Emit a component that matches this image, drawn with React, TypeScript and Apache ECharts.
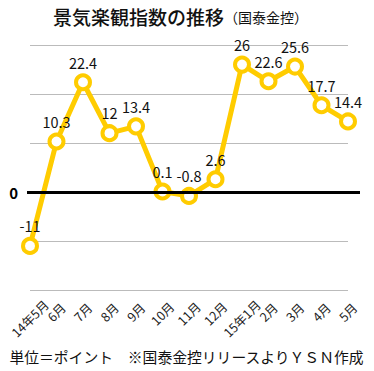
import React, { useEffect, useRef } from "react";
import * as echarts from "echarts";

const categories = ["14年5月", "6月", "7月", "8月", "9月", "10月", "11月", "12月", "15年1月", "2月", "3月", "4月", "5月"];
const values = [-11, 10.3, 22.4, 12, 13.4, 0.1, -0.8, 2.6, 26, 22.6, 25.6, 17.7, 14.4];
const titleMain = "景気楽観指数の推移";
const titleSub = "（国泰金控）";
const footer = "単位＝ポイント　※国泰金控リリースよりＹＳＮ作成";

const FONT = '"Noto Sans CJK JP", "Noto Sans", sans-serif';
const LABEL_SIZE = 12.5;

function measure(text: string, size: number): number {
  const c = document.createElement("canvas").getContext("2d");
  if (!c) return text.length * size;
  c.font = `${size}px ${FONT}`;
  return c.measureText(text).width;
}

export default function App() {
  const ref = useRef<HTMLDivElement>(null);
  useEffect(() => {
    if (!ref.current) return;
    const chart = echarts.init(ref.current, null, { renderer: "svg" });
    // per-label padding so rotated labels are centred under their tick (Excel style)
    const rich: Record<string, any> = {};
    categories.forEach((c, i) => {
      const L = measure(c, LABEL_SIZE);
      const p = Math.round(L * 0.32);
      rich["r" + i] = { padding: [p, p, 0, 0], fontSize: LABEL_SIZE, color: "#222", fontFamily: FONT };
    });
    chart.setOption({
      animation: false,
      backgroundColor: "#ffffff",
      textStyle: { fontFamily: FONT },
      title: {
        text: `{a|${titleMain}}{b|${titleSub}}`,
        left: 48,
        top: 2,
        textStyle: {
          rich: {
            a: { fontSize: 19, fontWeight: 500, color: "#111", fontFamily: FONT },
            b: { fontSize: 14, color: "#111", fontFamily: FONT, fontWeight: "normal" },
          },
        },
      },
      graphic: [
        {
          type: "text",
          left: "center",
          top: 349,
          style: { text: footer, fontSize: 14.8, fill: "#111", fontFamily: FONT },
        },
      ],
      grid: { left: 30, right: 26, top: 45, bottom: 81, outerBoundsMode: "none", containLabel: false },
      xAxis: {
        type: "category",
        data: categories,
        boundaryGap: false,
        axisLine: { lineStyle: { color: "#555", width: 1 } },
        axisTick: { show: false },
        axisLabel: {
          rotate: 45,
          align: "center",
          verticalAlign: "middle",
          interval: 0,
          margin: 18,
          formatter: (v: string, i: number) => `{r${i}|${v}}`,
          rich,
        },
      },
      yAxis: {
        type: "value",
        min: -20,
        max: 30,
        interval: 10,
        axisLine: { show: false },
        axisTick: { show: false },
        splitLine: { lineStyle: { color: "#bbbbbb", width: 1 } },
        axisLabel: {
          formatter: (v: number) => (v === 0 ? "0" : ""),
          fontSize: 15,
          fontWeight: "bold",
          color: "#000",
          margin: 12,
        },
      },
      series: [
        {
          type: "line",
          data: values,
          lineStyle: { color: "#FFCC00", width: 5 },
          itemStyle: { color: "#ffffff", borderColor: "#FFCC00", borderWidth: 4 },
          symbol: "circle",
          symbolSize: 14,
          label: { show: true, position: "top", fontSize: 14.5, color: "#111", distance: 4, fontFamily: FONT },
          markLine: {
            silent: true,
            symbol: "none",
            label: { show: false },
            lineStyle: { color: "#000", width: 3, type: "solid" },
            data: [[{ yAxis: 0, x: 27 }, { yAxis: 0, x: 360 }]],
          },
          z: 3,
        },
      ],
    });
    return () => chart.dispose();
  }, []);
  return <div ref={ref} style={{ width: 374, height: 371, position: "absolute", left: 0, top: 0 }} />;
}
